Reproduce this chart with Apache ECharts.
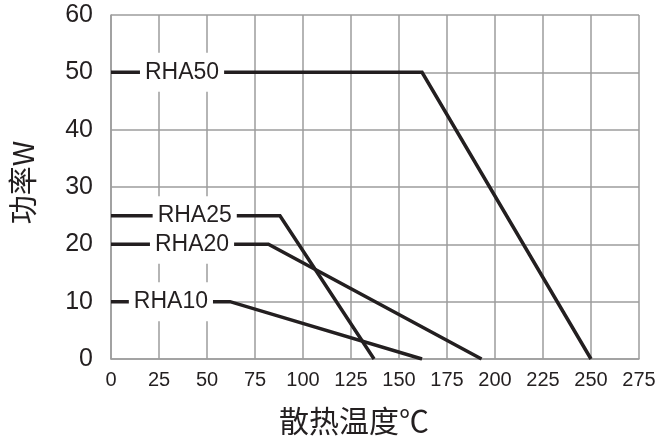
<!DOCTYPE html>
<html>
<head>
<meta charset="utf-8">
<script src="https://cdn.jsdelivr.net/npm/echarts@6/dist/echarts.min.js"></script>
<style>html,body{margin:0;padding:0;background:#fff}#c{width:667px;height:441px}</style>
</head>
<body>
<div id="c"></div>
<script>
const xTicks = [0, 25, 50, 75, 100, 125, 150, 175, 200, 225, 250, 275];
const yTicks = [0, 10, 20, 30, 40, 50, 60];
const seriesNames = ['RHA50', 'RHA25', 'RHA20', 'RHA10'];
const rha50 = [[0, 50], [162, 50], [250, 0]];
const rha25 = [[0, 25], [88, 25], [137, 0]];
const rha20 = [[0, 20], [82, 20], [193, 0]];
const rha10 = [[0, 10], [62, 10], [162, 0]];
const labelPos = [[37, 50], [43.6, 25], [42.2, 20], [31.2, 10]];

const lineColor = '#231f20';
const gridColor = '#9d9d9d';
const allData = [rha50, rha25, rha20, rha10];

const series = allData.map((d, i) => ({
  name: seriesNames[i],
  type: 'line',
  data: d,
  showSymbol: false,
  symbol: 'none',
  lineStyle: { color: lineColor, width: 3.5, join: 'miter' },
  itemStyle: { color: lineColor },
  animation: false,
  z: 3,
  markPoint: {
    symbol: 'rect',
    symbolSize: [1, 1],
    itemStyle: { color: 'rgba(0,0,0,0)' },
    animation: false,
    data: [{ coord: labelPos[i], name: seriesNames[i], value: seriesNames[i] }],
    label: {
      show: true,
      position: 'inside',
      formatter: '{b}',
      fontFamily: 'Liberation Sans, Arial, sans-serif',
      fontSize: 23,
      color: lineColor,
      backgroundColor: '#fff',
      padding: [8, 5, 8, 5]
    }
  }
}));

const chart = echarts.init(document.getElementById('c'), null, { renderer: 'canvas' });
chart.setOption({
  backgroundColor: '#fff',
  animation: false,
  grid: { left: 111, right: 28, top: 15, bottom: 79, containLabel: false },
  xAxis: {
    type: 'value',
    min: xTicks[0],
    max: xTicks[xTicks.length - 1],
    interval: 25,
    name: '散热温度℃',
    nameLocation: 'middle',
    nameGap: 47,
    nameTextStyle: {
      fontFamily: 'Noto Sans CJK SC',
      fontSize: 30,
      color: lineColor,
      padding: [0, 42, 0, 0]
    },
    axisLine: { show: true, lineStyle: { color: gridColor, width: 1.5 } },
    axisTick: { show: false },
    axisLabel: {
      fontFamily: 'Liberation Sans, Arial, sans-serif',
      fontSize: 20,
      color: lineColor,
      margin: 11
    },
    splitLine: { show: true, lineStyle: { color: gridColor, width: 1.5 } }
  },
  yAxis: {
    type: 'value',
    min: yTicks[0],
    max: yTicks[yTicks.length - 1],
    interval: 10,
    name: '功率W',
    nameLocation: 'middle',
    nameGap: 74,
    nameTextStyle: {
      fontFamily: 'Noto Sans CJK SC',
      fontSize: 29,
      color: lineColor,
      padding: [0, 0, 0, 9]
    },
    axisLine: { show: true, lineStyle: { color: gridColor, width: 1.5 } },
    axisTick: { show: false },
    axisLabel: {
      fontFamily: 'Liberation Sans, Arial, sans-serif',
      fontSize: 25,
      color: lineColor,
      margin: 18
    },
    splitLine: { show: true, lineStyle: { color: gridColor, width: 1.5 } }
  },
  series: series
});
</script>
</body>
</html>
